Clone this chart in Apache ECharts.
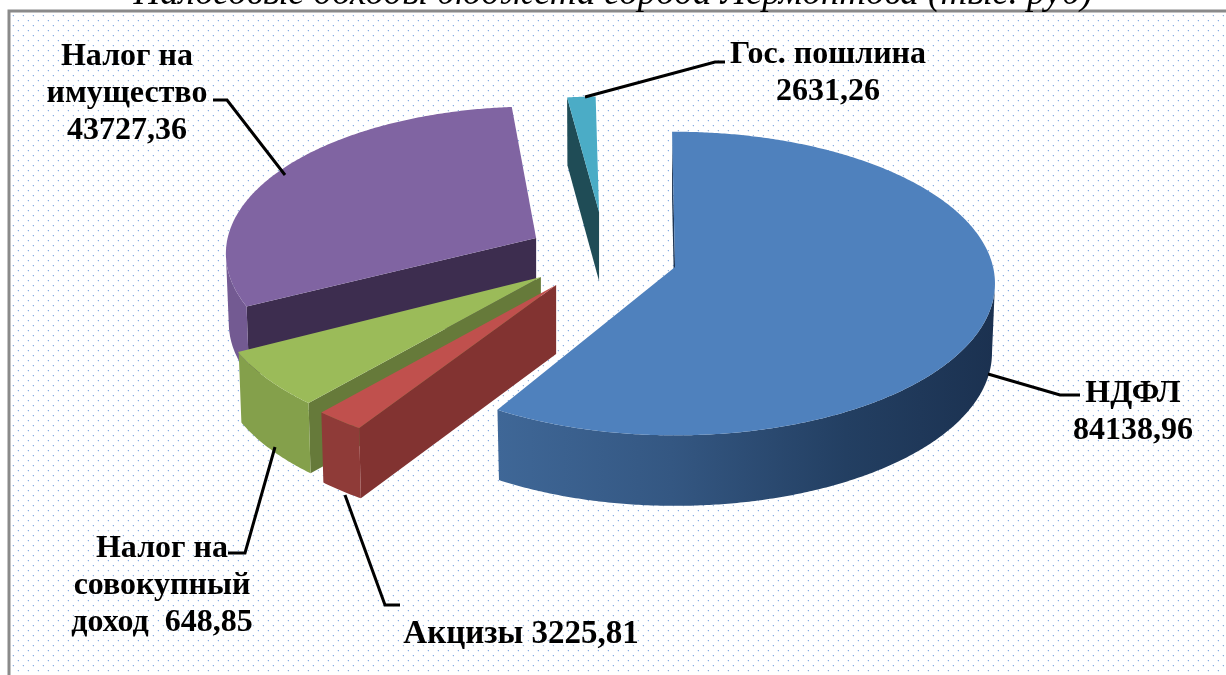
<!DOCTYPE html>
<html>
<head>
<meta charset="utf-8">
<style>
	html, body { margin: 0; padding: 0; background: #fff; }
	#main { width: 1226px; height: 675px; }
</style>
<script src="https://cdn.jsdelivr.net/npm/echarts@6/dist/echarts.min.js"></script>
</head>
<body>
<div id="main"></div>
<script>
// подписи и значения как на рисунке
var categories = ['НДФЛ', 'Акцизы', 'Налог на совокупный доход', 'Налог на имущество', 'Гос. пошлина'];
var labelValues = ['84138,96', '3225,81', '648,85', '43727,36', '2631,26'];
// доля сектора как он нарисован, градусы (подпись 648,85 не совпадает с рисунком)
var drawnShares = [211, 8, 21.3, 111.6, 8.1];

var startAngle = -0.6;
var drawOrder = [4, 3, 2, 1, 0];

// геометрия псевдо-3D
var cx = 628, cy = 261, rx = 318, ry = 150, persp = 0.109, depth = 69;
var explodeX = [0.148, -0.226, -0.274, -0.289, -0.091];
var explodeY = [0.04, 0.16, 0.107, -0.153, -0.327];
var radius = [1, 1.03, 1.02, 0.97, 0.84];
var angleShift = [0, 2.6, 2.6, 3.7, 1.2]; // вынесенные секторы в перспективе чуть повёрнуты
var topColors = ['#4f81bd', '#c0504d', '#9bbb59', '#8064a2', '#4bacc6'];
var sideColors = ['#1f3654', '#823331', '#667a3a', '#3d2d4f', '#1f4c56'];
var wallColors = [null, '#8f3b38', '#84a04b', '#735a92', '#3a8296'];

var total = drawnShares.reduce(function (a, b) { return a + b; }, 0);
var angles = [];
var acc = startAngle;
drawnShares.forEach(function (v, i) {
	var sweep = v / total * 360;
	angles.push([acc + angleShift[i], acc + sweep + angleShift[i]]);
	acc += sweep;
});
angles[4][1] -= 1.4; // верхняя грань пошлины уже, чем её доля

function project(i, deg, r, low) {
	var t = deg * Math.PI / 180;
	var u = Math.sin(t) * r, v = -Math.cos(t) * r;
	var p = 1 / (1 - persp * v);
	var x = cx + explodeX[i] * rx + rx * u * p;
	var y = cy + explodeY[i] * ry + ry * v * p;
	if (low) {
		x = x + (-u * 3);
		y = y + depth * (1 + 0.2 * persp * v);
	}
	return [x, y];
}

function renderSlice(params, api) {
	var i = api.value(0);
	var a0 = angles[i][0], a1 = angles[i][1];
	var r = radius[i];
	var children = [];
	var apex = project(i, a0, 0, false);
	var apexLow = [apex[0], apex[1] + depth];

	// боковая грань у начала сектора
	if (Math.sin(a0 * Math.PI / 180) < 0) {
		children.push({
			type: 'polygon',
			shape: { points: [apex, project(i, a0, r, false), project(i, a0, r, true), apexLow] },
			style: { fill: sideColors[i] }
		});
	}

	// внешняя стенка, только передняя часть дуги
	var upper = [], lower = [];
	for (var d = a0; d <= a1; d += 0.5) {
		if (-Math.cos(d * Math.PI / 180) * r > persp) {
			upper.push(project(i, d, r, false));
			lower.unshift(project(i, d, r, true));
		}
	}
	if (upper.length > 1) {
		var fill = wallColors[i];
		if (i === 0) {
			fill = new echarts.graphic.LinearGradient(0, 0, 1, 0, [
				{ offset: 0, color: '#3f6797' },
				{ offset: 0.35, color: '#345782' },
				{ offset: 0.7, color: '#233f62' },
				{ offset: 1, color: '#1b3150' }
			]);
		}
		children.push({
			type: 'polygon',
			shape: { points: upper.concat(lower) },
			style: { fill: fill }
		});
	}

	// верхняя грань
	var top = [apex];
	for (var k = a0; k < a1; k += 0.5) {
		top.push(project(i, k, r, false));
	}
	top.push(project(i, a1, r, false));
	children.push({
		type: 'polygon',
		shape: { points: top },
		style: { fill: topColors[i] }
	});
	return { type: 'group', children: children };
}

// точечный фон, шаг 10 px, ряды через 5 px со сдвигом
var dots = document.createElement('canvas');
dots.width = 10;
dots.height = 10;
var ctx = dots.getContext('2d');
ctx.fillStyle = '#fff';
ctx.fillRect(0, 0, 10, 10);
[[3, 5], [8, 0]].forEach(function (d) {
	ctx.fillStyle = '#e2ebf8';
	ctx.fillRect(d[0] - 1, d[1], 1, 1);
	ctx.fillRect(d[0], d[1] + 1, 1, 1);
	ctx.fillStyle = '#86ade4';
	ctx.fillRect(d[0], d[1], 1, 1);
});

var labelFont = {
	fontFamily: '"Liberation Serif"',
	fontWeight: 'bold',
	fontSize: 32,
	lineHeight: 37,
	fill: '#000',
	textAlign: 'center'
};

function label(x, y, text, size) {
	return {
		type: 'text',
		x: x,
		y: y,
		z: 10,
		style: Object.assign({}, labelFont, { text: text, textVerticalAlign: 'top', fontSize: size || 32 })
	};
}

function leader(points) {
	return {
		type: 'polyline',
		z: 9,
		shape: { points: points },
		style: { stroke: '#000', lineWidth: 3, fill: null }
	};
}

var chart = echarts.init(document.getElementById('main'), null, { renderer: 'canvas' });
chart.setOption({
	backgroundColor: '#fff',
	animation: false,
	title: {
		text: 'Налоговые доходы бюджета города Лермонтова (тыс. руб)',
		left: 'center',
		top: -29,
		textStyle: {
			fontFamily: '"Liberation Serif"',
			fontStyle: 'italic',
			fontWeight: 'normal',
			fontSize: 37,
			color: '#000'
		}
	},
	graphic: [
		{
			type: 'polygon',
			z: -2,
			shape: { points: [[9, 11], [1226, 11], [1226, 675], [9, 675]] },
			style: { fill: { image: dots, repeat: 'repeat' } }
		},
		{
			type: 'polyline',
			z: -1,
			shape: { points: [[1226, 11], [9, 11], [9, 675]] },
			style: { stroke: '#8a8a8a', lineWidth: 3, fill: null }
		},
		leader([[213, 100], [227, 100], [285, 175]]),
		leader([[725, 62], [715, 62], [585, 97]]),
		leader([[1080, 395], [1060, 395], [988, 374]]),
		leader([[228, 553], [245, 553], [275, 447]]),
		leader([[400, 605], [385, 605], [345, 495]]),
		label(127, 38, 'Налог на\nимущество\n' + labelValues[3]),
		label(828, 36, categories[4] + '\n' + labelValues[4]),
		label(1133, 375, categories[0] + '\n' + labelValues[0]),
		label(162, 530, 'Налог на\nсовокупный\nдоход  ' + labelValues[2]),
		label(521, 616, categories[1] + ' ' + labelValues[1], 33)
	],
	series: [{
		type: 'custom',
		coordinateSystem: 'none',
		silent: true,
		renderItem: renderSlice,
		data: drawOrder.map(function (i) { return [i, drawnShares[i]]; })
	}]
});
</script>
</body>
</html>
